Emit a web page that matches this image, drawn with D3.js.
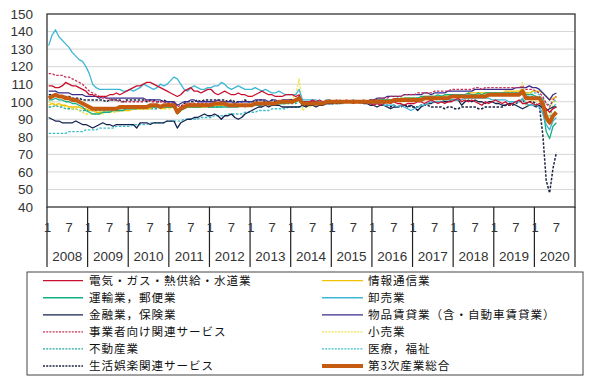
<!DOCTYPE html>
<html><head><meta charset="utf-8">
<script src="https://cdn.jsdelivr.net/npm/d3@7"></script>
<style>body{margin:0;background:#fff}svg{display:block}</style>
</head><body><svg id="c" width="600" height="382"></svg>
<script>
// ---- data (index, monthly, Jan 2008 – Jul 2020) ----
const years = ["2008","2009","2010","2011","2012","2013","2014","2015","2016","2017","2018","2019","2020"];
const monthLabels = ["1","7"];
const yTicks = [40,50,60,70,80,90,100,110,120,130,140,150];

const denki = [
 109,109,108,108,109,111,110,109,109,108,107,106,
 104,104,103,103,103,103,104,104,105,104,105,106,
 107,108,109,109,110,111,111,110,109,108,107,106,
 105,104,103,104,106,107,108,106,106,105,106,107,
 107,105,104,105,106,105,104,104,105,104,104,103,
 103,104,105,106,105,104,104,103,103,103,104,104,
 104,103,104,99,100,100,101,100,101,100,100,101,
 100,101,100,100,101,100,99,100,100,101,100,99,
 98,99,98,99,100,99,100,99,99,98,99,99,
 99,100,100,99,100,101,100,99,100,99,100,100,
 101,102,100,101,100,101,100,99,98,100,99,100,
 101,100,99,100,98,99,100,101,99,99,100,99,
 98,99,98,96,94,96,97];
const unyu = [
 101,101,102,101,101,100,100,99,99,98,97,95,
 94,93,93,93,94,94,94,95,95,95,95,96,
 96,96,96,97,96,97,97,97,97,97,97,97,
 97,97,93,95,96,97,97,97,97,97,98,97,
 97,97,97,97,97,97,97,97,97,98,97,98,
 98,98,98,98,99,98,99,99,99,99,99,100,
 100,100,101,98,99,99,99,99,99,100,100,100,
 100,100,100,100,100,100,100,100,100,100,100,101,
 100,101,101,101,101,101,101,102,101,102,102,102,
 102,102,103,103,103,103,103,104,103,104,104,104,
 104,104,104,104,105,104,104,105,104,105,105,105,
 105,105,105,105,105,105,105,105,106,104,104,104,
 103,102,96,83,79,86,88];
const kinyu = [
 91,90,89,89,88,88,88,88,89,88,87,87,
 86,85,86,87,88,87,87,86,87,87,87,87,
 87,87,85,88,88,88,87,88,88,88,88,89,
 89,89,85,88,89,90,90,91,91,92,93,92,
 92,93,92,90,92,92,93,91,90,91,93,94,
 95,96,97,97,98,97,98,98,98,97,97,97,
 97,97,97,98,97,98,98,97,98,98,99,99,
 99,100,99,100,100,100,101,100,100,99,99,98,
 98,97,98,98,97,96,97,97,98,98,97,98,
 97,95,97,98,99,99,100,100,100,100,100,101,
 101,101,98,100,101,100,101,100,100,99,100,100,
 99,99,98,98,99,99,98,97,96,97,98,98,
 97,98,96,95,96,97,97];
const jigyosha = [
 116,116,115,115,115,114,114,113,112,111,110,108,
 106,105,104,103,102,102,101,101,101,100,100,100,
 100,100,100,100,100,101,100,100,100,100,100,99,
 99,99,97,98,98,99,99,99,99,99,99,99,
 99,99,99,99,98,98,98,98,98,98,98,98,
 98,98,99,99,99,99,99,99,100,100,100,100,
 100,101,102,99,99,99,100,100,100,100,100,100,
 100,100,100,100,100,100,100,100,100,100,100,101,
 101,101,102,102,102,103,103,103,103,104,104,104,
 104,105,105,105,105,105,106,106,106,106,106,107,
 107,107,107,107,107,107,108,108,107,108,108,108,
 108,108,108,108,108,108,108,108,109,107,107,107,
 106,105,103,99,97,101,103];
const fudosan = [
 97,97,98,97,97,96,96,96,96,95,95,95,
 95,95,95,95,95,95,95,95,95,95,96,96,
 96,96,96,96,96,96,96,96,96,97,97,97,
 97,97,95,96,96,97,97,97,97,97,97,97,
 97,97,97,97,98,98,98,98,98,98,98,98,
 98,98,99,99,99,99,99,99,99,99,99,99,
 99,99,100,99,99,99,99,99,99,99,100,100,
 100,100,100,100,100,100,100,100,100,100,100,100,
 100,100,101,101,101,101,101,101,101,102,101,102,
 102,102,102,102,102,102,102,103,103,103,103,103,
 103,103,103,103,103,103,103,103,103,103,104,104,
 104,104,104,104,104,104,104,104,104,103,103,103,
 103,103,102,99,98,100,101];
const seikatsu = [
 104,104,104,103,103,103,103,102,102,102,101,101,
 101,101,101,101,101,100,101,101,101,101,100,101,
 101,101,101,101,101,100,101,101,100,100,101,100,
 100,100,94,97,99,100,100,100,101,100,101,101,
 101,101,101,101,101,100,101,100,100,100,101,100,
 100,100,101,101,100,100,101,100,100,100,100,101,
 101,101,102,98,98,98,98,99,98,98,99,99,
 99,99,99,100,100,100,100,100,100,100,100,100,
 99,99,99,98,98,97,98,97,97,98,98,97,
 97,97,98,98,98,97,97,97,97,96,97,97,
 96,96,97,97,97,97,97,96,96,97,97,97,
 97,97,97,98,98,98,99,100,101,99,100,100,
 99,97,81,55,48,62,71];
const joho = [
 98,99,98,99,98,98,97,97,97,97,96,96,
 95,95,94,94,94,94,94,95,95,95,95,95,
 95,96,96,96,96,96,96,97,97,97,96,97,
 97,97,95,96,97,97,97,97,97,97,97,98,
 98,98,98,98,98,98,98,98,98,98,98,98,
 98,98,99,99,99,99,99,99,99,99,99,100,
 100,100,101,99,99,99,100,99,100,100,100,100,
 100,100,100,100,100,100,100,100,100,100,100,100,
 100,101,101,101,101,101,101,101,102,102,102,102,
 102,102,102,103,103,103,103,103,103,103,104,104,
 104,104,104,104,105,105,105,105,105,105,105,105,
 105,105,105,106,106,106,106,106,107,105,105,106,
 106,106,105,103,101,102,103];
const oroshi = [
 132,138,141,137,135,133,131,128,126,124,123,120,
 116,110,108,107,107,107,107,107,107,107,106,106,
 107,106,107,108,110,109,108,107,108,110,109,110,
 112,114,113,110,107,106,108,109,108,107,107,108,
 108,109,109,111,110,108,107,108,109,108,107,107,
 107,108,107,106,107,106,105,105,106,105,104,104,
 104,104,107,101,101,101,101,101,100,100,101,101,
 100,100,101,100,100,100,100,100,99,100,100,99,
 99,99,99,98,98,98,98,97,98,97,96,95,
 96,97,98,98,99,100,100,100,100,101,101,101,
 101,101,101,102,102,102,102,102,102,102,102,101,
 101,101,101,101,100,100,100,100,102,99,98,98,
 98,97,93,87,84,89,91];
const buppin = [
 106,106,106,105,105,105,105,104,104,104,104,103,
 103,103,103,102,103,102,102,102,102,102,102,102,
 102,102,102,102,102,101,101,101,101,101,100,100,
 100,100,98,99,100,100,101,101,100,100,100,100,
 100,100,101,100,100,100,100,99,100,100,100,100,
 100,101,101,101,101,100,101,101,100,101,101,101,
 101,101,103,100,100,100,100,100,100,100,100,100,
 100,100,100,100,100,100,100,100,100,100,100,101,
 101,102,102,102,103,103,103,103,103,104,104,104,
 104,104,104,105,105,104,105,105,105,105,106,106,
 106,106,106,106,106,106,107,107,107,107,107,107,
 107,107,107,107,107,107,108,108,108,108,109,108,
 108,107,105,103,101,104,105];
const kouri = [
 100,99,99,98,98,97,97,96,96,95,94,93,
 93,93,93,93,93,94,94,94,94,95,95,96,
 96,96,96,96,96,96,97,98,99,96,96,96,
 96,97,93,95,96,97,98,97,97,97,97,98,
 98,98,99,98,98,98,98,98,98,98,98,98,
 98,98,99,99,99,99,99,99,100,100,100,101,
 102,104,113,95,97,97,98,98,98,98,99,99,
 99,99,99,100,100,100,100,100,100,100,100,100,
 100,100,100,100,100,100,100,100,100,100,101,101,
 101,101,101,101,102,102,102,102,102,102,102,103,
 103,103,103,103,103,103,103,104,104,104,104,104,
 104,104,104,104,104,104,104,104,111,98,100,101,
 100,100,96,88,92,100,100];
const iryo = [
 82,82,82,82,82,82,83,83,83,83,83,84,
 84,84,84,85,85,85,85,85,86,86,86,86,
 86,87,87,87,87,87,88,88,88,88,88,89,
 89,89,89,89,90,90,90,90,90,91,91,91,
 91,92,92,92,92,93,93,93,93,93,94,94,
 94,94,95,95,95,95,96,96,96,96,96,97,
 97,97,97,97,98,98,98,98,98,98,99,99,
 99,99,99,99,100,100,100,100,100,100,100,101,
 101,101,101,101,101,101,101,102,102,102,102,102,
 102,102,102,102,103,103,103,103,103,103,103,104,
 104,104,104,104,104,104,104,104,104,105,105,105,
 105,105,105,105,105,105,105,105,106,105,105,105,
 105,104,101,93,91,97,99];
const sogo = [
 102,103,104,103,103,102,102,101,101,100,99,98,
 97,96,96,96,96,96,96,96,96,97,97,97,
 97,97,97,97,97,97,98,98,98,97,98,98,
 98,98,94,96,97,98,98,98,98,98,98,98,
 98,99,99,99,99,98,98,98,98,98,98,98,
 98,99,99,99,99,99,99,99,100,100,100,100,
 100,101,102,99,99,99,99,99,99,99,100,100,
 100,100,100,100,100,100,100,100,100,100,100,100,
 100,100,100,100,100,100,101,101,101,101,101,101,
 101,101,101,102,102,102,102,102,102,102,102,103,
 103,103,103,103,103,103,103,103,103,103,104,104,
 104,104,104,104,104,104,104,104,106,102,102,102,
 102,102,99,91,88,92,94];

const legendLeft = ["電気・ガス・熱供給・水道業","運輸業，郵便業","金融業，保険業","事業者向け関連サービス","不動産業","生活娯楽関連サービス"];
const legendRight = ["情報通信業","卸売業","物品賃貸業（含・自動車賃貸業）","小売業","医療，福祉","第3次産業総合"];

// ---- styles ----
const S = {
  denki:   {data: denki,   color:"#C8102E", w:1.3, dash:null},
  unyu:    {data: unyu,    color:"#14AE86", w:1.3, dash:null},
  kinyu:   {data: kinyu,   color:"#12224F", w:1.3, dash:null},
  jigyosha:{data: jigyosha,color:"#C83258", w:1.3, dash:"2.5,1.5"},
  fudosan: {data: fudosan, color:"#23A99A", w:1.3, dash:"2.5,1.5"},
  seikatsu:{data: seikatsu,color:"#1B2444", w:1.5, dash:"2.5,1.5"},
  joho:    {data: joho,    color:"#F2C200", w:1.3, dash:null},
  oroshi:  {data: oroshi,  color:"#3FB6D6", w:1.3, dash:null},
  buppin:  {data: buppin,  color:"#3A2C8C", w:1.3, dash:null},
  kouri:   {data: kouri,   color:"#EDE24A", w:1.3, dash:"2.5,1.5"},
  iryo:    {data: iryo,    color:"#3BBFCB", w:1.3, dash:"2.5,1.5"},
  sogo:    {data: sogo,    color:"#C55A11", w:4,   dash:null}
};
const leftKeys = ["denki","unyu","kinyu","jigyosha","fudosan","seikatsu"];
const rightKeys = ["joho","oroshi","buppin","kouri","iryo","sogo"];
const drawOrder = ["iryo","fudosan","kouri","joho","unyu","kinyu","seikatsu","buppin","jigyosha","oroshi","denki","sogo"];

const svg = d3.select("#c");
const L = 47, R = 575, T = 14, B = 207;
const nMonths = years.length * 12;
const x = d3.scaleLinear().domain([0, nMonths]).range([L, R]);
const y = d3.scaleLinear().domain([40, 150]).range([B, T]);
const FONT = "'Liberation Sans', Arial, sans-serif";

// gridlines
svg.append("g").selectAll("line").data(yTicks.filter(v => v > 40 && v < 150)).join("line")
  .attr("x1", L).attr("x2", R).attr("y1", d => y(d)).attr("y2", d => y(d))
  .attr("stroke", "#D6D6D6").attr("stroke-width", 1);

// y labels
svg.append("g").selectAll("text").data(yTicks).join("text")
  .attr("x", 33).attr("y", d => y(d)).attr("dy", "0.36em")
  .attr("text-anchor", "end").attr("font-family", FONT).attr("font-size", 13.5).attr("fill", "#333")
  .text(d => d);

// lines
const line = d3.line().x((d, i) => x(i + 0.5)).y(d => y(d));
drawOrder.forEach(k => {
  const s = S[k];
  svg.append("path").datum(s.data).attr("d", line)
    .attr("fill", "none").attr("stroke", s.color).attr("stroke-width", s.w)
    .attr("stroke-linejoin", "round")
    .attr("stroke-dasharray", s.dash);
});

// plot border
svg.append("rect").attr("x", L).attr("y", T).attr("width", R - L).attr("height", B - T)
  .attr("fill", "none").attr("stroke", "#333").attr("stroke-width", 1.3);

// x axis: year separators, month labels, year labels
const yearBounds = d3.range(years.length + 1).map(i => i * 12);
svg.append("g").selectAll("line").data(yearBounds).join("line")
  .attr("x1", d => x(d)).attr("x2", d => x(d)).attr("y1", B).attr("y2", 267)
  .attr("stroke", "#222").attr("stroke-width", 1.2);

const monthPos = [];
years.forEach((yr, yi) => { monthPos.push({m: yi * 12, t: monthLabels[0]}, {m: yi * 12 + 6, t: monthLabels[1]}); });
svg.append("g").selectAll("text").data(monthPos).join("text")
  .attr("x", d => x(d.m + 0.5) - (d.t === "1" ? 1 : 0)).attr("y", 227).attr("dy", "0.36em")
  .attr("text-anchor", "middle").attr("font-family", FONT).attr("font-size", 13).attr("fill", "#333")
  .text(d => d.t);

svg.append("g").selectAll("text").data(years).join("text")
  .attr("x", (d, i) => x(i * 12 + 6)).attr("y", 256).attr("dy", "0.36em")
  .attr("text-anchor", "middle").attr("font-family", FONT).attr("font-size", 13.5).attr("fill", "#333")
  .text(d => d);

// legend
svg.append("rect").attr("x", 27).attr("y", 272).attr("width", 556).attr("height", 103)
  .attr("fill", "#fff").attr("stroke", "#444").attr("stroke-width", 1);
const rowY = i => 280.7 + i * 17.06;
function legendCol(keys, names, x1, x2, tx) {
  keys.forEach((k, i) => {
    const s = S[k];
    svg.append("line").attr("x1", x1).attr("x2", x2).attr("y1", rowY(i)).attr("y2", rowY(i))
      .attr("stroke", s.color).attr("stroke-width", k === "sogo" ? 4 : 1.3)
      .attr("stroke-dasharray", s.dash ? "2,1.2" : null);
    svg.append("text").attr("x", tx).attr("y", rowY(i)).attr("dy", "0.36em")
      .attr("font-family", "'Noto Sans CJK JP', sans-serif").attr("font-size", 11.6)
      .attr("letter-spacing", 0.9).attr("fill", "#111")
      .text(names[i]);
  });
}
legendCol(leftKeys, legendLeft, 43, 83, 89);
legendCol(rightKeys, legendRight, 322, 363, 368);
</script>
</body></html>
